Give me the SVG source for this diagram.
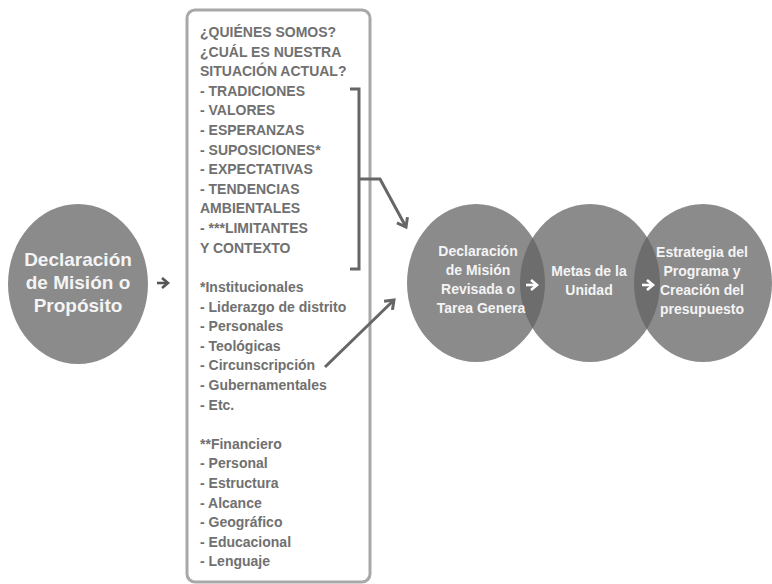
<svg xmlns="http://www.w3.org/2000/svg" width="772" height="584" viewBox="0 0 772 584">
<style>
  .circ { fill: #8b8b8b; }
  .rc { fill: #636363; fill-opacity: 0.74; }
  .ctext { font-family: "Liberation Sans", Arial, sans-serif; font-weight: bold; fill: #f4f4f4; text-anchor: middle; }
  .btext { font-family: "Liberation Sans", Arial, sans-serif; font-weight: bold; font-size: 14px; fill: #707070; }
  .conn { fill: none; stroke: #666666; stroke-width: 3; }
</style>
<defs>
  <marker id="chev" markerUnits="userSpaceOnUse" markerWidth="20" markerHeight="20" refX="10" refY="10" orient="auto" viewBox="0 0 20 20">
    <path d="M2,4 L10,10 L2,16" fill="none" stroke="#666666" stroke-width="3"/>
  </marker>
  <g id="arr">
    <path d="M-6,0 H3" stroke-width="2.6" fill="none"/>
    <path d="M-1,-5 L5,0 L-1,5" stroke-width="2.6" fill="none"/>
  </g>
</defs>
<rect width="772" height="584" fill="#ffffff"/>

<g id="node-mision">
  <ellipse class="circ" cx="78" cy="284" rx="70" ry="80"/>
  <text class="ctext" font-size="19" x="78" y="266">Declaración</text>
  <text class="ctext" font-size="19" x="78" y="289">de Misión o</text>
  <text class="ctext" font-size="19" x="78" y="312">Propósito</text>
</g>

<g id="node-box">
  <rect x="187" y="10" width="183" height="572" rx="8" fill="#ffffff" stroke="#a8a8a8" stroke-width="3"/>
  <text class="btext">
    <tspan x="200" y="37">¿QUIÉNES SOMOS?</tspan>
    <tspan x="200" y="56.6">¿CUÁL ES NUESTRA</tspan>
    <tspan x="200" y="76.2">SITUACIÓN ACTUAL?</tspan>
    <tspan x="200" y="95.8">- TRADICIONES</tspan>
    <tspan x="200" y="115.4">- VALORES</tspan>
    <tspan x="200" y="135">- ESPERANZAS</tspan>
    <tspan x="200" y="154.6">- SUPOSICIONES*</tspan>
    <tspan x="200" y="174.2">- EXPECTATIVAS</tspan>
    <tspan x="200" y="193.8">- TENDENCIAS</tspan>
    <tspan x="200" y="213.4">AMBIENTALES</tspan>
    <tspan x="200" y="233">- ***LIMITANTES</tspan>
    <tspan x="200" y="252.6">Y CONTEXTO</tspan>
  </text>
  <text class="btext">
    <tspan x="200" y="292">*Institucionales</tspan>
    <tspan x="200" y="311.6">- Liderazgo de distrito</tspan>
    <tspan x="200" y="331.2">- Personales</tspan>
    <tspan x="200" y="350.8">- Teológicas</tspan>
    <tspan x="200" y="370.4">- Circunscripción</tspan>
    <tspan x="200" y="390">- Gubernamentales</tspan>
    <tspan x="200" y="409.6">- Etc.</tspan>
    <tspan x="200" y="448.8">**Financiero</tspan>
    <tspan x="200" y="468.4">- Personal</tspan>
    <tspan x="200" y="488">- Estructura</tspan>
    <tspan x="200" y="507.6">- Alcance</tspan>
    <tspan x="200" y="527.2">- Geográfico</tspan>
    <tspan x="200" y="546.8">- Educacional</tspan>
    <tspan x="200" y="566.4">- Lenguaje</tspan>
  </text>
</g>

<g id="node-revisada">
  <ellipse class="rc" cx="476" cy="283" rx="69" ry="79"/>
</g>
<g id="node-metas">
  <ellipse class="rc" cx="590" cy="283" rx="70" ry="79"/>
</g>
<g id="node-estrategia">
  <ellipse class="rc" cx="703" cy="283" rx="69" ry="79"/>
</g>
<g id="labels-right">
  <text class="ctext" font-size="14" x="478" y="256">Declaración</text>
  <text class="ctext" font-size="14" x="478" y="275">de Misión</text>
  <text class="ctext" font-size="14" x="478" y="294">Revisada o</text>
  <text class="ctext" font-size="14" x="481" y="313">Tarea Genera</text>
  <text class="ctext" font-size="14" x="589" y="276">Metas de la</text>
  <text class="ctext" font-size="14" x="589" y="295">Unidad</text>
  <text class="ctext" font-size="14" x="702" y="257">Estrategia del</text>
  <text class="ctext" font-size="14" x="702" y="276">Programa y</text>
  <text class="ctext" font-size="14" x="702" y="295">Creación del</text>
  <text class="ctext" font-size="14" x="702" y="314">presupuesto</text>
</g>

<g id="connectors">
  <use href="#arr" x="163" y="283" stroke="#555555"/>
  <use href="#arr" x="532" y="285" stroke="#ffffff"/>
  <use href="#arr" x="648" y="285" stroke="#ffffff"/>
  <path class="conn" d="M350,89 H359 V269 H350"/>
  <path class="conn" d="M359,179 H380 L406,227" marker-end="url(#chev)"/>
  <path class="conn" d="M325,367 L394,300" marker-end="url(#chev)"/>
</g>
</svg>
